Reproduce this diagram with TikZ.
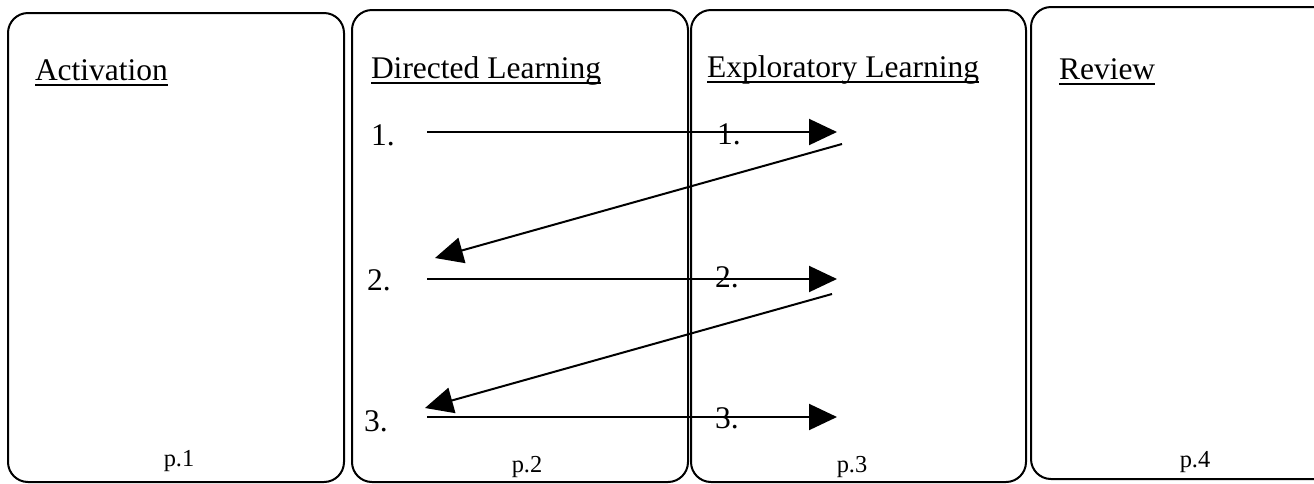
\documentclass[tikz,border=0pt]{standalone}
\usepackage{fontspec}
\setmainfont{Liberation Serif}
\usetikzlibrary{arrows.meta}
\newcommand{\fT}{\fontsize{15.75}{19}\selectfont}
\newcommand{\fS}{\fontsize{12.2}{14}\selectfont}
\newcommand{\stagebox}[4]{%
  \draw[pnl] (#1,#3) rectangle (#2,#4);}
\newcommand{\stagetitle}[3]{%
  \node[txt,anchor=base west] (#1) at #2 {\fT #3};
  \draw[uline] ([yshift=-2.5pt]#1.base west) -- ([yshift=-2.5pt]#1.base east);}

\begin{document}
\begin{tikzpicture}[x=0.5pt,y=-0.5pt,
    txt/.style={inner sep=0pt,outer sep=0pt},
    pnl/.style={draw=black,line width=1pt,rounded corners=10pt},
    uline/.style={draw=black,line width=0.9pt},
    lnk/.style={draw=black,line width=1pt},
    arr/.style={lnk,-{Triangle[length=14pt,width=13pt]}}]
  \path[use as bounding box] (0,0) rectangle (1314,483);
  \clip (0,0) rectangle (1314,483);

  % the four stages
  \stagebox{8}{344}{13}{482}
  \stagebox{352}{688}{10}{482}
  \stagebox{691}{1026}{10}{482}
  \stagebox{1031}{1360}{7}{479}
  \stagetitle{act}{(35,80)}{Activation}
  \stagetitle{dir}{(371,78)}{Directed Learning}
  \stagetitle{exp}{(707,77)}{Exploratory Learning}
  \stagetitle{rev}{(1059,79)}{Review}

  % page numbers
  \node[txt,anchor=base] (p1) at (179,466) {\fS p.1};
  \node[txt,anchor=base] (p2) at (527,472) {\fS p.2};
  \node[txt,anchor=base] (p3) at (852,472) {\fS p.3};
  \node[txt,anchor=base] (p4) at (1195,467) {\fS p.4};

  % numbered steps
  \node[txt,anchor=base west] (d1) at (371,145) {\fT 1.};
  \node[txt,anchor=base west] (d2) at (367,290) {\fT 2.};
  \node[txt,anchor=base west] (d3) at (364,431) {\fT 3.};
  \node[txt,anchor=base west] (e1) at (717,144) {\fT 1.};
  \node[txt,anchor=base west] (e2) at (715,287) {\fT 2.};
  \node[txt,anchor=base west] (e3) at (715,428) {\fT 3.};

  % arrow ends
  \coordinate (go1) at (427,132);
  \coordinate (to1) at (837,132);
  \coordinate (bk1) at (842,144);
  \coordinate (in2) at (435,258);
  \coordinate (go2) at (427,279);
  \coordinate (to2) at (837,279);
  \coordinate (bk2) at (832,294);
  \coordinate (in3) at (425,408);
  \coordinate (go3) at (427,417);
  \coordinate (to3) at (837,417);

  \draw[arr] (go1) -- (to1);
  \draw[arr] (bk1) -- (in2);
  \draw[arr] (go2) -- (to2);
  \draw[arr] (bk2) -- (in3);
  \draw[arr] (go3) -- (to3);
\end{tikzpicture}
\end{document}
